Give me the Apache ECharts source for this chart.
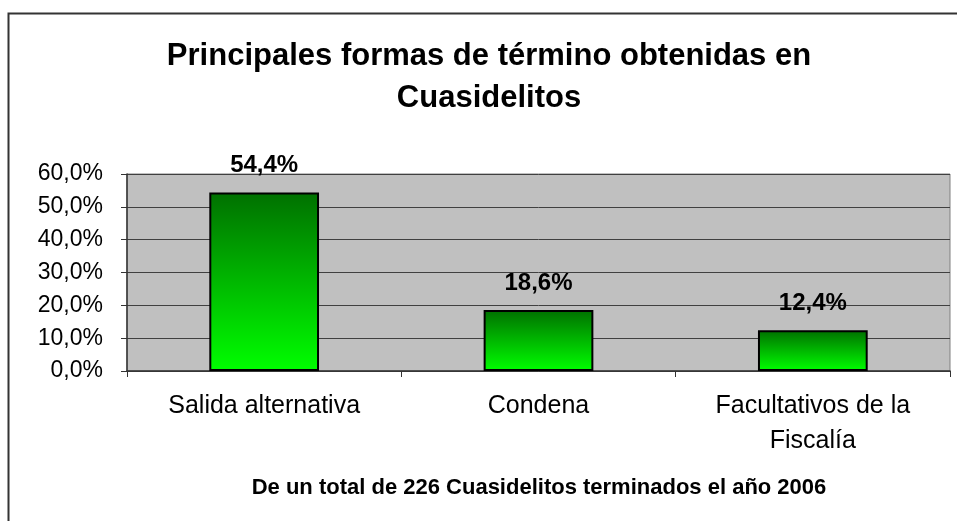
<!DOCTYPE html>
<html>
<head>
<meta charset="utf-8">
<script src="https://cdn.jsdelivr.net/npm/echarts@6/dist/echarts.min.js"></script>
<style>html,body{margin:0;padding:0;background:#fff}#c{width:957px;height:521px}</style>
</head>
<body>
<div id="c"></div>
<script>
const categories = ['Salida alternativa', 'Condena', 'Facultativos de la\nFiscalía'];
const values = [54.4, 18.6, 12.4];
const titleText = 'Principales formas de término obtenidas en\nCuasidelitos';
const subtitleText = 'De un total de 226 Cuasidelitos terminados el año 2006';
const yMin = 0, yMax = 60, yStep = 10;

const fmt = v => v.toFixed(1).replace('.', ',') + '%';
const FONT = '"Liberation Sans", Arial, sans-serif';

const chart = echarts.init(document.getElementById('c'));
chart.setOption({
  animation: false,
  backgroundColor: '#ffffff',
  graphic: [{
    type: 'rect',
    shape: { x: 8.5, y: 13.5, width: 1000, height: 600 },
    style: { fill: 'none', stroke: '#333333', lineWidth: 2 },
    silent: true
  }],
  title: [{
    text: titleText,
    left: 484, top: 30, textAlign: 'center',
    textStyle: { fontFamily: FONT, fontSize: 31, fontWeight: 'bold', color: '#000', lineHeight: 42 }
  }, {
    text: subtitleText,
    left: 534, top: 472, textAlign: 'center',
    textStyle: { fontFamily: FONT, fontSize: 22, fontWeight: 'bold', color: '#000' }
  }],
  grid: {
    left: 127, right: 7, top: 174, bottom: 150,
    show: true, backgroundColor: '#C0C0C0', borderColor: '#808080', borderWidth: 1
  },
  xAxis: {
    type: 'category',
    data: categories,
    axisLine: { lineStyle: { color: '#333', width: 1.5 } },
    axisTick: { show: true, length: 6, alignWithLabel: false, lineStyle: { color: '#333' } },
    axisLabel: { fontFamily: FONT, fontSize: 25, color: '#000', margin: 18, lineHeight: 35 }
  },
  yAxis: {
    type: 'value',
    min: yMin, max: yMax, interval: yStep,
    axisLine: { show: true, lineStyle: { color: '#333', width: 1.5 } },
    axisTick: { show: true, length: 6, lineStyle: { color: '#333' } },
    axisLabel: { fontFamily: FONT, fontSize: 23, color: '#000', margin: 24, formatter: fmt },
    splitLine: { show: true, lineStyle: { color: '#404040', width: 1 } }
  },
  series: [{
    type: 'bar',
    data: values,
    barWidth: '40%',
    itemStyle: {
      color: new echarts.graphic.LinearGradient(0, 0, 0, 1, [
        { offset: 0, color: '#007000' },
        { offset: 1, color: '#00FF00' }
      ]),
      borderColor: '#000',
      borderWidth: 2
    },
    label: {
      show: true, position: 'top', distance: 15,
      fontFamily: FONT, fontSize: 24, fontWeight: 'bold', color: '#000',
      formatter: p => fmt(p.value)
    }
  }]
});
</script>
</body>
</html>
